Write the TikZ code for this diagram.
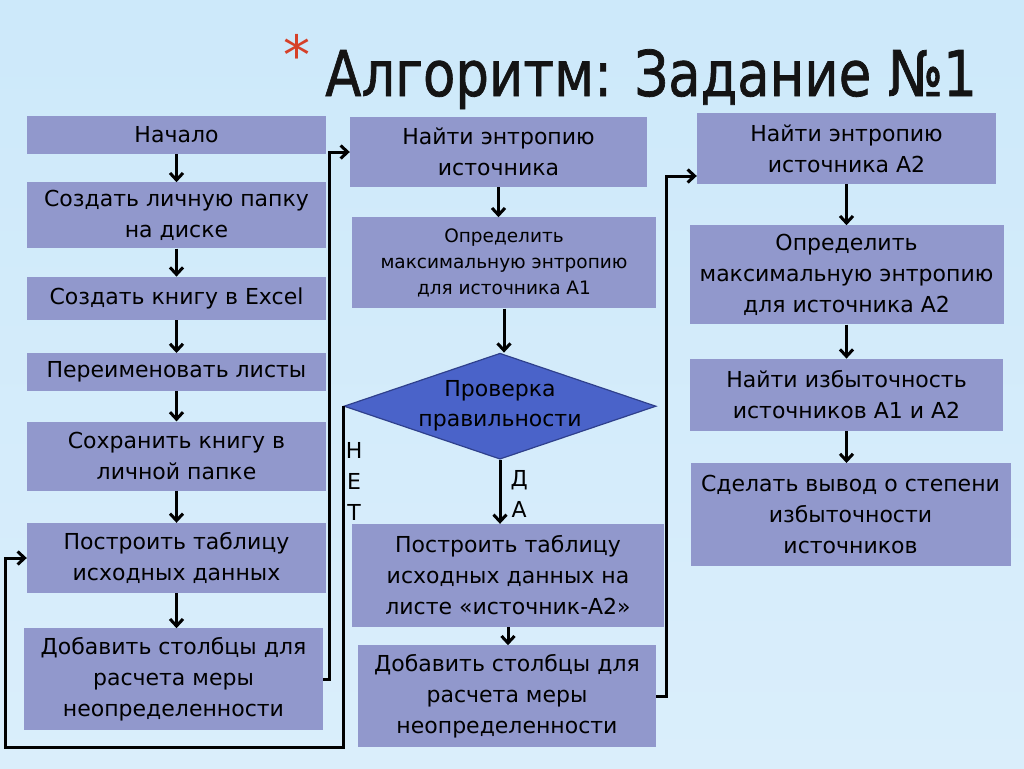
\documentclass[tikz,border=0pt]{standalone}
\usepackage{fontspec}
\setmainfont{DejaVu Sans}
\usepackage{graphicx}
\usetikzlibrary{arrows.meta,positioning,shapes.geometric}
\definecolor{boxfill}{RGB}{145,152,204}
\definecolor{decfill}{RGB}{74,99,201}
\definecolor{decline}{RGB}{47,64,140}
\definecolor{titlecol}{RGB}{20,20,20}
\definecolor{starred}{RGB}{214,64,40}
\definecolor{bgtop}{RGB}{205,233,250}
\definecolor{bgmid}{RGB}{234,246,253}
\definecolor{bgbot}{RGB}{218,238,251}

\begin{document}
\begin{tikzpicture}[x=1pt, y=-1pt,
  box/.style={fill=boxfill, inner sep=0pt, align=center, minimum width=299pt, font=\fontsize{22}{31}\selectfont},
  dec/.style={diamond, draw=decline, line width=1.2pt, fill=decfill, inner sep=-30pt, minimum width=312pt, minimum height=106pt, align=center, font=\fontsize{22}{30}\selectfont},
  arr/.style={-{Straight Barb[length=7pt,width=13pt]}, line width=3pt},
  lbl/.style={font=\fontsize{22}{31}\selectfont, align=center, inner sep=1pt}
]
  % background
  \shade[top color=bgtop, middle color=bgmid, bottom color=bgbot] (0,0) rectangle (1024,768);

  % title
  \node[anchor=base west, inner sep=0pt, text=titlecol, font=\fontsize{63}{63}\selectfont\addfontfeature{FakeBold=1.2}] (title) at (325,96) {\scalebox{0.84}[1]{Алгоритм: Задание №1}};
  \node[text=starred, inner sep=0pt, font=\fontsize{54}{54}\selectfont] (star) at (297,54) {*};

  % left column
  \node[box, minimum height=38pt] (start) at (176.5,135) {Начало};
  \node[box, minimum height=66pt, below=28pt of start] (folder) {Создать личную папку\\на диске};
  \node[box, minimum height=43pt, below=28pt of folder] (book) {Создать книгу в Excel};
  \node[box, minimum height=38pt, below=33pt of book] (rename) {Переименовать листы};
  \node[box, minimum height=69pt, below=30pt of rename] (save) {Сохранить книгу в\\личной папке};
  \node[box, minimum height=70pt, below=32pt of save] (table) {Построить таблицу\\исходных данных};
  \node[box, minimum height=102pt, below=35pt of table, xshift=-3pt] (cols) {Добавить столбцы для\\расчета меры\\неопределенности};

  % middle column
  \node[box, minimum width=297pt, minimum height=70pt] (entA) at (498.5,152) {Найти энтропию\\источника};
  \node[box, minimum width=304pt, minimum height=91pt, below=30pt of entA, xshift=5.5pt, font=\fontsize{18.5}{26}\selectfont] (maxA) {Определить\\максимальную энтропию\\для источника А1};
  \node[dec, below=44pt of maxA, xshift=-4pt] (check) {Проверка\\правильности};
  \node[box, minimum width=312pt, minimum height=103pt, below=64pt of check, xshift=8pt] (tableB) {Построить таблицу\\исходных данных на\\листе «источник-А2»};
  \node[box, minimum width=298pt, minimum height=102pt, below=18pt of tableB, xshift=-1pt] (colsB) {Добавить столбцы для\\расчета меры\\неопределенности};

  % right column
  \node[box, minimum height=71pt] (entB) at (846.5,148.5) {Найти энтропию\\источника А2};
  \node[box, minimum width=314pt, minimum height=99pt, below=41pt of entB] (maxB) {Определить\\максимальную энтропию\\для источника А2};
  \node[box, minimum width=313pt, minimum height=72pt, below=34pt of maxB] (redund) {Найти избыточность\\источников А1 и А2};
  \node[box, minimum width=320pt, minimum height=103pt, below=32pt of redund, xshift=4pt] (concl) {Сделать вывод о степени\\избыточности\\источников};

  % straight steps
  \foreach \a/\b in {start/folder, folder/book, book/rename, rename/save, save/table, table/cols,
                     entA/maxA, maxA/check, tableB/colsB, entB/maxB, maxB/redund, redund/concl}
    \draw[arr] (\a.south) -- (\a.south |- \b.north);
  \draw[arr] (check.south) -- node[lbl, right, pos=0.53, xshift=8pt] {Д\\А} (check.south |- tableB.north);

  % jumps between columns
  \draw[arr] (cols.east) -- ++(6,0) |- (entA.west);
  \draw[arr] (colsB.east) -- ++(10,0) |- (entB.west |- 0,176);

  % loop back on "no"
  \coordinate (loopL) at (5,747);
  \draw[arr] (check.west) |- node[lbl, right, pos=0.111] {Н\\Е\\Т} (loopL) |- (table.west);
\end{tikzpicture}
\end{document}
